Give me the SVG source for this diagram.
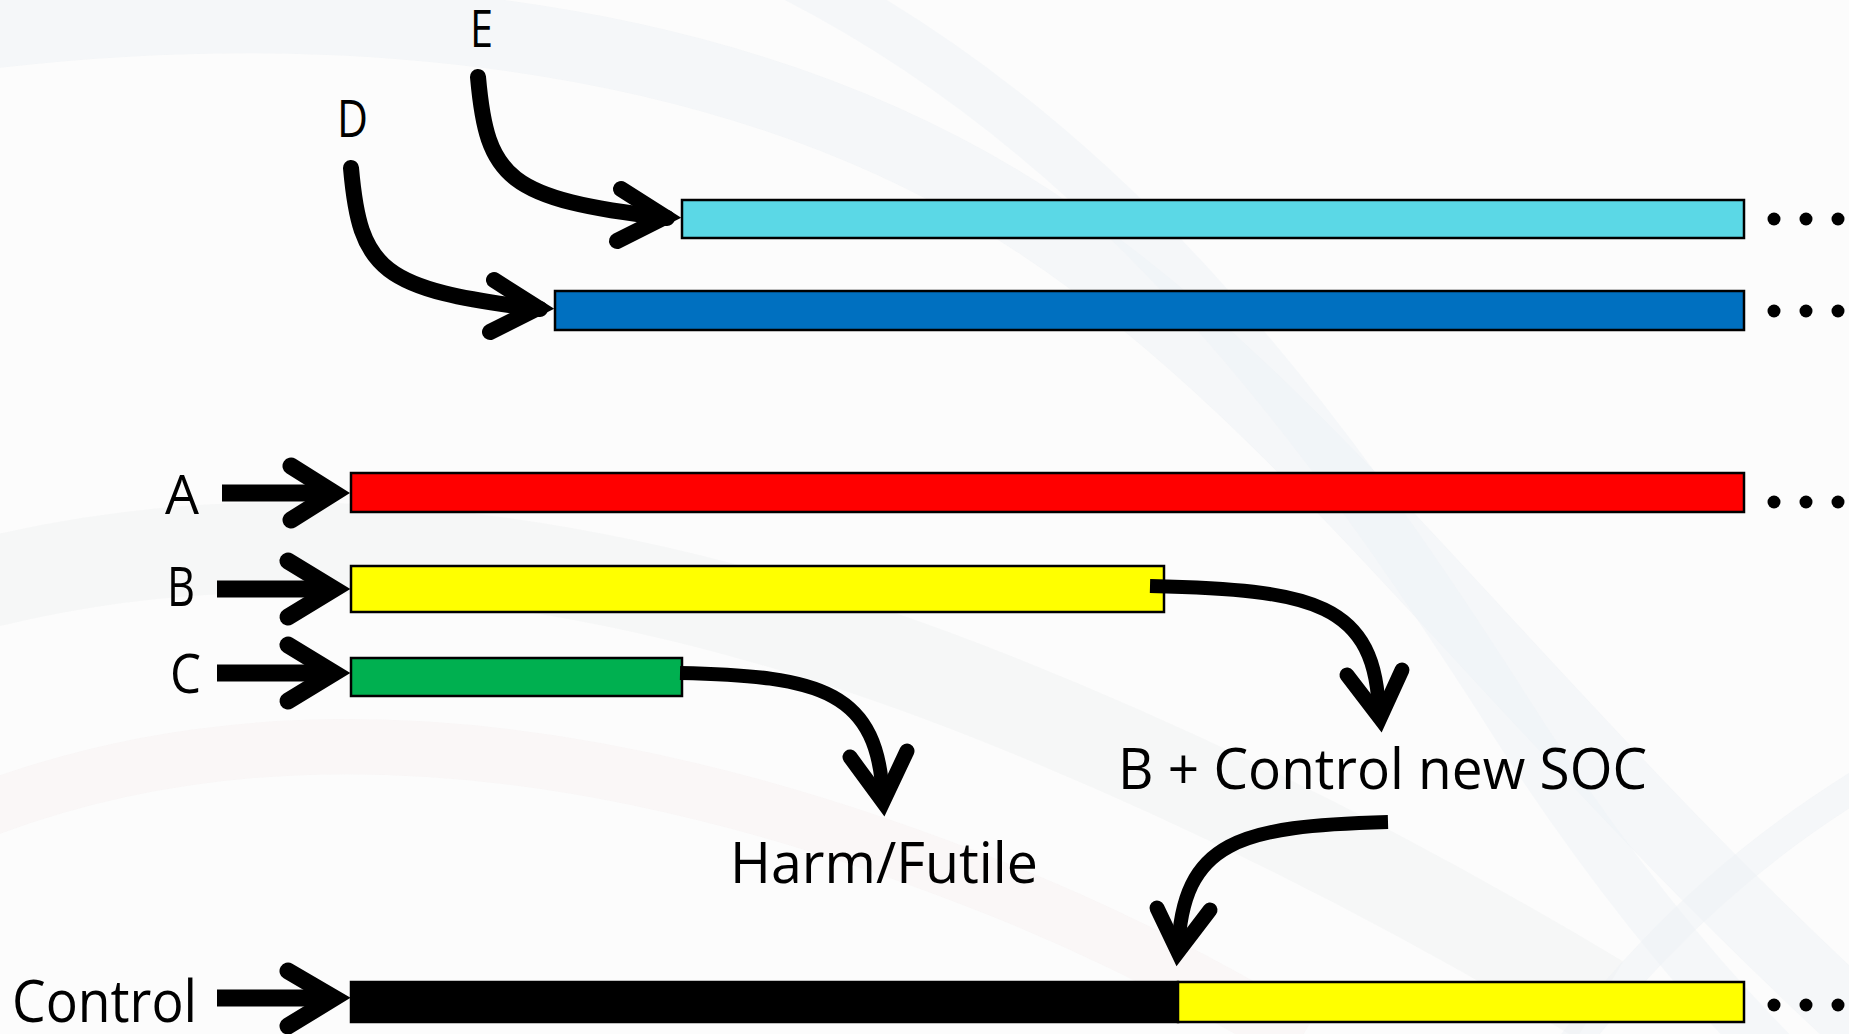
<svg xmlns="http://www.w3.org/2000/svg" width="1849" height="1034" viewBox="0 0 1849 1034">
<style>
.bar{stroke:#000;stroke-width:2.5}
.lbl{font-family:"Open Sans","Noto Sans",sans-serif;fill:#000}
.ln{fill:none;stroke:#000;stroke-linecap:round;stroke-linejoin:round}
.lnb{fill:none;stroke:#000;stroke-linecap:butt;stroke-linejoin:round}
.hd{fill:none;stroke:#000;stroke-linecap:round;stroke-linejoin:miter;stroke-miterlimit:6}
.bg{fill:none;stroke-linecap:butt}
</style>
<rect x="0" y="0" width="1849" height="1034" fill="#fcfcfc"/>
<g id="background">
<path class="bg" d="M -60 40 C 300 -10, 700 20, 1000 200 C 1300 380, 1500 700, 1900 1060" stroke="#eef2f5" stroke-width="70" opacity="0.5"/>
<path class="bg" d="M 760 -40 C 1100 120, 1320 420, 1500 700 C 1600 860, 1700 980, 1780 1060" stroke="#eef2f6" stroke-width="50" opacity="0.45"/>
<path class="bg" d="M -40 590 C 250 510, 600 540, 1000 700 C 1200 780, 1400 880, 1600 1000" stroke="#f1f3f3" stroke-width="90" opacity="0.6"/>
<path class="bg" d="M -40 820 C 250 700, 600 730, 1000 890 C 1100 930, 1200 980, 1300 1040" stroke="#f8f1f2" stroke-width="55" opacity="0.5"/>
<path class="bg" d="M 1560 1060 C 1660 930, 1760 840, 1900 760" stroke="#edf1f5" stroke-width="30" opacity="0.5"/>
</g>
<g id="bar-E"><rect class="bar" x="682" y="200" width="1062" height="38" fill="#5BD8E6"/></g>
<g id="bar-D"><rect class="bar" x="555" y="291" width="1189" height="39" fill="#0070C0"/></g>
<g id="bar-A"><rect class="bar" x="351" y="473" width="1393" height="39" fill="#FF0000"/></g>
<g id="bar-B"><rect class="bar" x="351" y="566" width="813" height="46" fill="#FFFF00"/></g>
<g id="bar-C"><rect class="bar" x="351" y="658" width="331" height="38" fill="#00B050"/></g>
<g id="bar-Control">
<rect class="bar" x="351" y="982" width="827" height="40" fill="#000000"/>
<rect class="bar" x="1178" y="982" width="566" height="40" fill="#FFFF00"/>
</g>
<g id="dots" fill="#000">
<circle cx="1774" cy="219" r="6.5"/><circle cx="1806" cy="219" r="6.5"/><circle cx="1838" cy="219" r="6.5"/>
<circle cx="1774" cy="311" r="6.5"/><circle cx="1806" cy="311" r="6.5"/><circle cx="1838" cy="311" r="6.5"/>
<circle cx="1774" cy="502" r="6.5"/><circle cx="1806" cy="502" r="6.5"/><circle cx="1838" cy="502" r="6.5"/>
<circle cx="1774" cy="1005" r="6.5"/><circle cx="1806" cy="1005" r="6.5"/><circle cx="1838" cy="1005" r="6.5"/>
</g>
<g id="labels">
<g id="label-E"><text class="lbl" x="470" y="47" font-size="52" textLength="23" lengthAdjust="spacingAndGlyphs">E</text></g>
<g id="label-D"><text class="lbl" x="337" y="137" font-size="52" textLength="31" lengthAdjust="spacingAndGlyphs">D</text></g>
<g id="label-A"><text class="lbl" x="165" y="514" font-size="55" textLength="34" lengthAdjust="spacingAndGlyphs">A</text></g>
<g id="label-B"><text class="lbl" x="167" y="606" font-size="54" textLength="28" lengthAdjust="spacingAndGlyphs">B</text></g>
<g id="label-C"><text class="lbl" x="170" y="693" font-size="54" textLength="31" lengthAdjust="spacingAndGlyphs">C</text></g>
<g id="label-Control"><text class="lbl" x="12" y="1022" font-size="59" textLength="185" lengthAdjust="spacingAndGlyphs">Control</text></g>
<g id="label-SOC"><text class="lbl" x="1118" y="789" font-size="57" textLength="529" lengthAdjust="spacingAndGlyphs">B + Control new SOC</text></g>
<g id="label-Harm"><text class="lbl" x="730" y="883" font-size="56" textLength="308" lengthAdjust="spacingAndGlyphs">Harm/Futile</text></g>
</g>
<g id="connectors">
<path class="lnb" stroke-width="17" d="M 222 493 L 336 493"/>
<path class="hd" stroke-width="17" d="M 291 466 L 334 493 L 291 520"/>
<path class="lnb" stroke-width="17" d="M 217 589 L 334 589"/>
<path class="hd" stroke-width="17" d="M 288 561 L 334 589 L 288 617"/>
<path class="lnb" stroke-width="17" d="M 217 673 L 334 673"/>
<path class="hd" stroke-width="17" d="M 288 645 L 334 673 L 288 701"/>
<path class="lnb" stroke-width="17" d="M 217 998 L 334 998"/>
<path class="hd" stroke-width="17" d="M 288 971 L 334 998 L 288 1026"/>
<path class="ln" stroke-width="16" d="M 351 168 C 360 270, 380 290, 540 309"/>
<path class="hd" stroke-width="16" d="M 494 280 L 538 308 L 490 332"/>
<g transform="translate(127,-91)">
<path class="ln" stroke-width="16" d="M 351 168 C 360 270, 380 290, 540 309"/>
<path class="hd" stroke-width="16" d="M 494 280 L 538 308 L 490 332"/>
</g>
<path class="lnb" stroke-width="14" d="M 680 673 C 820 676, 880 690, 883 802"/>
<path class="hd" stroke-width="15" d="M 850 757 L 883 802 L 907 751"/>
<path class="lnb" stroke-width="14" d="M 1150 586 C 1310 590, 1378 600, 1379 718"/>
<path class="hd" stroke-width="15" d="M 1347 675 L 1380 718 L 1402 670"/>
<path class="lnb" stroke-width="14" d="M 1388 822 C 1240 826, 1182 840, 1178 952"/>
<path class="hd" stroke-width="15" d="M 1157 908 L 1178 952 L 1210 910"/>
</g>
</svg>
